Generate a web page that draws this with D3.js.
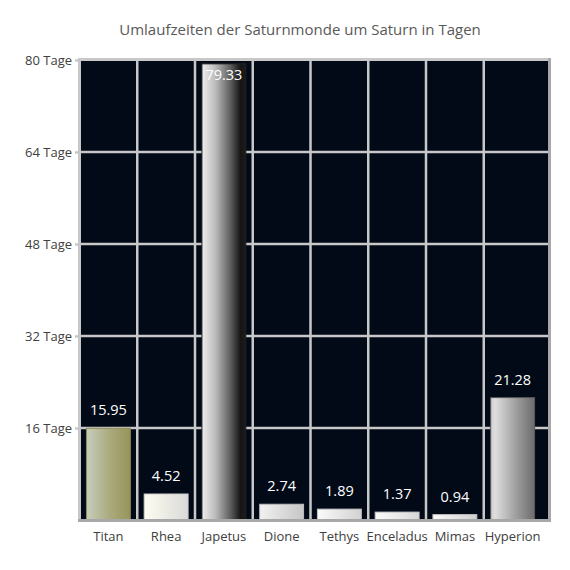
<!DOCTYPE html>
<html>
<head>
<meta charset="utf-8">
<script src="https://cdn.jsdelivr.net/npm/d3@7"></script>
<style>
  html, body { margin: 0; padding: 0; background: #ffffff; }
  svg { display: block; font-family: "Open Sans", "Noto Sans", sans-serif; }
</style>
</head>
<body>
<div id="chart"></div>
<script>

// Chart data
var moons = ["Titan", "Rhea", "Japetus", "Dione", "Tethys", "Enceladus", "Mimas", "Hyperion"];
var periodDays = [15.95, 4.52, 79.33, 2.74, 1.89, 1.37, 0.94, 21.28];
var dayTicks = [16, 32, 48, 64, 80];
var titleText = "Umlaufzeiten der Saturnmonde um Saturn in Tagen";

// Gradient fills for each bar (left -> right), plus outline
var barFills = [
    { stops: [[0, "#c6cdbb"], [0.55, "#aaa97c"], [1, "#96955a"]], stroke: "#8d8c55" },
    { stops: [[0, "#fdfdf1"], [0.6, "#e8e8e2"], [1, "#d9d9d9"]], stroke: "#cfcfcf" },
    { stops: [[0, "#eeeeee"], [0.3, "#bdbdbd"], [0.65, "#5e5e5e"], [0.88, "#151515"], [1, "#1c1c1c"]], stroke: "#202020" },
    { stops: [[0, "#f2f2f2"], [1, "#c6c6c6"]], stroke: "#bdbdbd" },
    { stops: [[0, "#fafafa"], [1, "#d2d2d2"]], stroke: "#c4c4c4" },
    { stops: [[0, "#fcfcfc"], [1, "#d8d8d8"]], stroke: "#cacaca" },
    { stops: [[0, "#fafafa"], [1, "#cfcfcf"]], stroke: "#c2c2c2" },
    { stops: [[0, "#cfcfcf"], [0.1, "#dedede"], [0.6, "#9c9c9c"], [1, "#6c6c6c"]], stroke: "#5a5a5a" }
];

var width = 570, height = 570;
var plot = { left: 80, top: 59, right: 549, bottom: 520 };

var svg = d3.select("#chart").append("svg")
            .attr("width", width)
            .attr("height", height);

var defs = svg.append("defs");
barFills.forEach(function(f, i){
    var g = defs.append("linearGradient")
                .attr("id", "barGrad" + i)
                .attr("x1", "0%").attr("y1", "0%")
                .attr("x2", "100%").attr("y2", "0%");
    f.stops.forEach(function(s){
        g.append("stop").attr("offset", s[0]).attr("stop-color", s[1]);
    });
});

var x = d3.scaleBand()
          .domain(moons)
          .range([79.5, 541.5])
          .paddingInner(0.24)
          .paddingOuter(0.12);

var y = d3.scaleLinear()
          .domain([0, 80])
          .range([520, 60]);

// Title
svg.append("text")
   .attr("x", 300)
   .attr("y", 35)
   .attr("text-anchor", "middle")
   .style("font-size", "15px")
   .style("fill", "#595959")
   .text(titleText);

// Plot background
svg.append("rect")
   .attr("x", plot.left)
   .attr("y", plot.top)
   .attr("width", plot.right - plot.left)
   .attr("height", plot.bottom - plot.top)
   .style("fill", "#020a18");

// Horizontal grid lines
svg.append("g")
   .selectAll("line")
   .data(dayTicks.filter(function(d){ return d < 80; }))
   .enter().append("line")
   .attr("x1", plot.left)
   .attr("x2", plot.right)
   .attr("y1", function(d){ return y(d); })
   .attr("y2", function(d){ return y(d); })
   .style("stroke", "#c8c8c8")
   .style("stroke-width", 2.5);

// Vertical grid lines between categories
svg.append("g")
   .selectAll("line")
   .data(moons.slice(1))
   .enter().append("line")
   .attr("x1", function(d){ return x(d) - x.step() * x.paddingInner() / 2; })
   .attr("x2", function(d){ return x(d) - x.step() * x.paddingInner() / 2; })
   .attr("y1", plot.top)
   .attr("y2", plot.bottom)
   .style("stroke", "#c8c8c8")
   .style("stroke-width", 2.5);

// Bars
svg.append("g")
   .selectAll("rect")
   .data(moons)
   .enter().append("rect")
   .attr("x", function(d){ return x(d); })
   .attr("y", function(d, i){ return y(periodDays[i]); })
   .attr("width", x.bandwidth())
   .attr("height", function(d, i){ return y(0) - y(periodDays[i]); })
   .style("fill", function(d, i){ return "url(#barGrad" + i + ")"; })
   .style("stroke", function(d, i){ return barFills[i].stroke; })
   .style("stroke-width", 1);

// Value labels
svg.append("g")
   .selectAll("text")
   .data(moons)
   .enter().append("text")
   .attr("x", function(d){ return x(d) + x.bandwidth() / 2; })
   .attr("y", function(d, i){ return Math.max(y(periodDays[i]) - 13, 80); })
   .attr("text-anchor", "middle")
   .style("font-size", "14.5px")
   .style("fill", "#ffffff")
   .text(function(d, i){ return periodDays[i].toFixed(2); });

// Frame
var frame = svg.append("g");
frame.append("line")
     .attr("x1", plot.left - 2).attr("x2", plot.right + 1)
     .attr("y1", plot.top + 0.5).attr("y2", plot.top + 0.5)
     .style("stroke", "#c8c8c8").style("stroke-width", 3);
frame.append("line")
     .attr("x1", plot.left - 0.5).attr("x2", plot.left - 0.5)
     .attr("y1", plot.top - 1).attr("y2", plot.bottom + 1)
     .style("stroke", "#c8c8c8").style("stroke-width", 3);
frame.append("line")
     .attr("x1", plot.right + 0.5).attr("x2", plot.right + 0.5)
     .attr("y1", plot.top - 1).attr("y2", plot.bottom + 2)
     .style("stroke", "#a8a8a8").style("stroke-width", 3);
frame.append("line")
     .attr("x1", plot.left - 2).attr("x2", plot.right + 2)
     .attr("y1", plot.bottom + 0.5).attr("y2", plot.bottom + 0.5)
     .style("stroke", "#a8a8a8").style("stroke-width", 3);

// Y axis
var yAxis = svg.append("g")
               .attr("transform", "translate(" + (plot.left - 2) + ",0)")
               .call(d3.axisLeft(y)
                       .tickValues(dayTicks)
                       .tickSize(3)
                       .tickPadding(3)
                       .tickFormat(function(d){ return d + " Tage"; }));
yAxis.select(".domain").remove();
yAxis.selectAll("line").style("stroke", "#c8c8c8").style("stroke-width", 2.5);
yAxis.selectAll("text")
     .style("font-size", "13px")
     .style("fill", "#404040")
     .style("font-family", "\"Open Sans\", \"Noto Sans\", sans-serif");

// X axis
var xAxis = svg.append("g")
               .attr("transform", "translate(0," + plot.bottom + ")")
               .call(d3.axisBottom(x).tickSize(0).tickPadding(12));
xAxis.select(".domain").remove();
xAxis.selectAll("text")
     .style("font-size", "13px")
     .style("fill", "#404040")
     .style("font-family", "\"Open Sans\", \"Noto Sans\", sans-serif");

</script>
</body>
</html>
